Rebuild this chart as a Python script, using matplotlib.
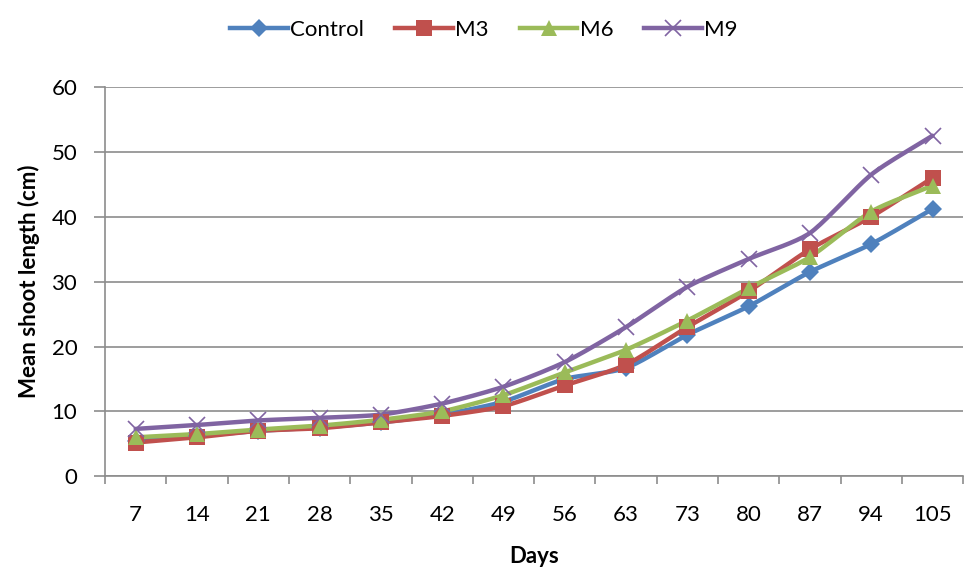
import numpy as np
import matplotlib
matplotlib.use("Agg")
import matplotlib.pyplot as plt
from matplotlib.lines import Line2D

days = ["7", "14", "21", "28", "35", "42", "49", "56", "63", "73", "80", "87", "94", "105"]
control = [5.5, 6.2, 7.0, 7.5, 8.3, 9.5, 11.5, 15.0, 16.7, 21.8, 26.2, 31.5, 35.8, 41.2]
m3 = [5.2, 6.0, 7.0, 7.4, 8.3, 9.3, 10.8, 14.0, 17.2, 23.0, 28.5, 35.0, 40.0, 46.0]
m6 = [6.0, 6.5, 7.2, 7.8, 8.7, 10.0, 12.5, 16.0, 19.5, 24.0, 29.0, 33.8, 40.8, 44.8]
m9 = [7.3, 7.9, 8.6, 9.0, 9.5, 11.2, 13.8, 17.6, 23.0, 29.2, 33.5, 37.5, 46.5, 52.5]

plt.rcParams['font.family'] = ['Lato', 'DejaVu Sans']

def smooth(x, y, n=20):
    x = np.asarray(x, float); y = np.asarray(y, float)
    px = np.concatenate([[2*x[0]-x[1]], x, [2*x[-1]-x[-2]]])
    py = np.concatenate([[2*y[0]-y[1]], y, [2*y[-1]-y[-2]]])
    xs, ys = [], []
    for i in range(1, len(px)-2):
        t = np.linspace(0, 1, n, endpoint=False)
        for arr, out in ((px, xs), (py, ys)):
            p0, p1, p2, p3 = arr[i-1], arr[i], arr[i+1], arr[i+2]
            m1 = (p2 - p0) / 2 * 0.7
            m2 = (p3 - p1) / 2 * 0.7
            h00 = 2*t**3 - 3*t**2 + 1
            h10 = t**3 - 2*t**2 + t
            h01 = -2*t**3 + 3*t**2
            h11 = t**3 - t**2
            out.extend(h00*p1 + h10*m1 + h01*p2 + h11*m2)
    xs.append(x[-1]); ys.append(y[-1])
    return np.array(xs), np.array(ys)

fig = plt.figure(figsize=(9.68, 5.69), dpi=100)
ax = fig.add_axes([0.1085, 0.163, 0.8865, 0.684])

x = np.arange(len(days))
series = [("Control", control, "#4F81BD", "D", 9),
          ("M3", m3, "#C0504D", "s", 11),
          ("M6", m6, "#9BBB59", "^", 11),
          ("M9", m9, "#8064A2", "x", 11)]
handles = []
for name, vals, col, mk, ms in series:
    sx, sy = smooth(x, vals)
    ax.plot(sx, sy, color=col, lw=3.2, zorder=3, solid_capstyle='round')
    mew = 1.2 if mk == "x" else 0
    ax.plot(x, vals, linestyle='none', marker=mk, markersize=ms, color=col,
            markeredgecolor=col, markeredgewidth=mew, zorder=4)
    handles.append(Line2D([0], [0], color=col, lw=3.2, marker=mk, markersize=ms,
                          markeredgewidth=mew, markeredgecolor=col))

ax.set_xlim(-0.5, len(days) - 0.5)
ax.set_ylim(0, 60)
ax.set_yticks(np.arange(0, 61, 10))
ax.yaxis.grid(True, color="#8c8c8c", lw=1.2)
ax.set_axisbelow(True)
ax.set_xticks(x)
ax.set_xticklabels(days)
ax.set_xticks(np.arange(-0.5, len(days)), minor=True)
ax.tick_params(axis='x', which='major', length=0, labelsize=16, pad=21)
ax.tick_params(axis='x', which='minor', length=6, color="#8c8c8c", width=1.2)
ax.tick_params(axis='y', length=8, color="#8c8c8c", width=1.2, labelsize=16, pad=12)
for s in ("top", "right"):
    ax.spines[s].set_visible(False)
for s in ("left", "bottom"):
    ax.spines[s].set_color("#8c8c8c")
    ax.spines[s].set_linewidth(1.2)

ax.set_xlabel("Days", fontsize=16, fontweight='bold', labelpad=15)
ax.set_ylabel("Mean shoot length (cm)", fontsize=16, fontweight='bold', labelpad=8)

fig.legend(handles, [s[0] for s in series], loc='upper center', bbox_to_anchor=(0.5, 1.0),
           ncol=4, frameon=False, fontsize=16, handlelength=2.6, columnspacing=1.4,
           handletextpad=0.1)

fig.savefig("out.png", dpi=100)
